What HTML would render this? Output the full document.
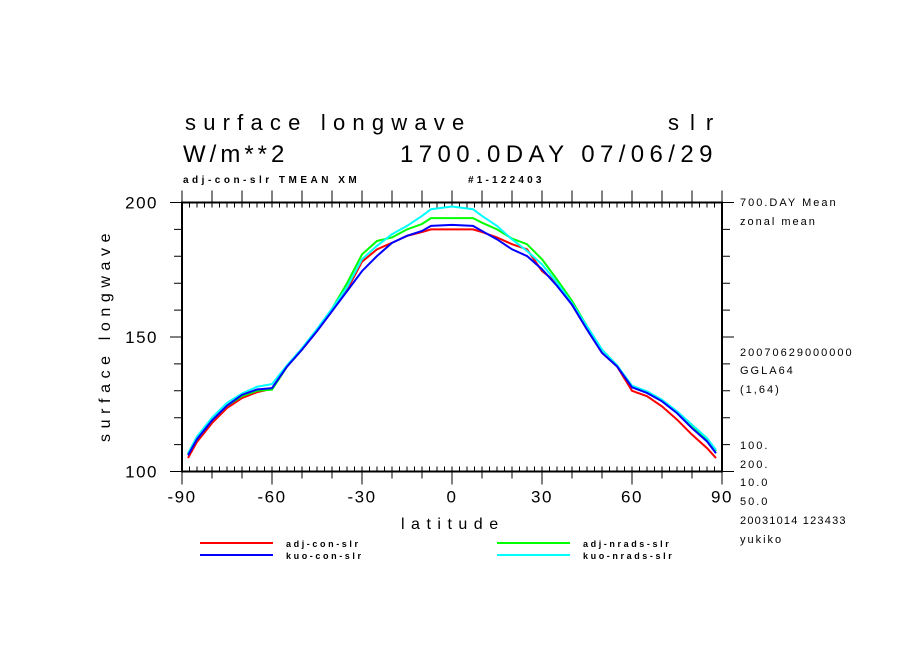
<!DOCTYPE html>
<html><head><meta charset="utf-8"><style>
body{margin:0;background:#fff;width:904px;height:654px;overflow:hidden}
svg{display:block}
text{font-family:"Liberation Sans",sans-serif;fill:#000}
</style></head><body>
<svg id="chart" width="904" height="654" viewBox="0 0 904 654">
<text x="185" y="130" font-size="22" letter-spacing="7.2">surface longwave</text>
<text x="668" y="130" font-size="22" letter-spacing="11">slr</text>
<text x="183" y="162" font-size="24" letter-spacing="4">W/m**2</text>
<text x="400" y="162" font-size="24" letter-spacing="5.4">1700.0DAY 07/06/29</text>
<text x="183" y="183" font-size="10" font-weight="bold" letter-spacing="3.5">adj-con-slr TMEAN XM</text>
<text x="468" y="183" font-size="10" font-weight="bold" letter-spacing="3.2">#1-122403</text>
<g id="axes"></g>
<g id="series"></g>
<text x="0" y="0" font-size="16" letter-spacing="5.6" transform="translate(110,442) rotate(-90)">surface longwave</text>
<text x="401" y="529" font-size="16" letter-spacing="6.5">latitude</text>
<g font-size="11" letter-spacing="2">
<text x="740" y="206">700.DAY Mean</text>
<text x="740" y="225">zonal mean</text>
<text x="740" y="356">20070629000000</text>
<text x="740" y="374">GGLA64</text>
<text x="740" y="393">(1,64)</text>
<text x="740" y="449">100.</text>
<text x="740" y="468">200.</text>
<text x="740" y="486">10.0</text>
<text x="740" y="505">50.0</text>
<text x="740" y="524" letter-spacing="1.2">20031014 123433</text>
<text x="740" y="543">yukiko</text>
</g>
<g id="legend"></g>
</svg>
<script>
const lats=[-88,-85,-80,-75,-70,-65,-60,-55,-50,-45,-40,-35,-30,-25,-20,-15,-10,-7,0,7,10,15,20,25,30,35,40,45,50,55,60,65,70,75,80,85,88];
const adjCon=[105,111,118,123.6,127.3,129.5,130.7,139,145.3,152.2,159.6,167.5,178,182.6,185,187.6,189,190,190,190,189,187,184.5,182.6,174.5,170.2,162,152.8,144.1,139.1,130,128,124.2,119.3,113.7,108.7,105];
const kuoCon=[106,112,119,124.5,128.5,130.5,131,139,145.3,152.2,159.6,167,174.5,180.1,185,187.6,189.4,191.3,191.7,191.3,189.4,186.3,182.6,180.1,175.2,169,162,152.8,144.1,139.1,131.3,129.2,126.1,121.7,116.1,111.2,106.8];
const adjNrads=[106.5,112,119,124.5,128,130,130.4,139,145.3,152.5,160.5,170,180.7,185.7,187,190,192,194.2,194.2,194.2,192.5,190,186.6,184.5,178.9,171.4,163.4,154,145.3,139.5,131.5,129.5,126.5,122,117,112,107.5];
const kuoNrads=[106.8,113,120,125.5,129,131.5,132.5,139.5,145.8,153,160.5,168.5,178.9,183.9,188.2,191.3,195,197.5,198.5,197.5,195,191.3,186.3,182,177,170.2,162.5,154,145.3,139.5,131.9,129.8,126.7,122.4,117.4,112.4,108];
const xTicks=[-90,-60,-30,0,30,60,90];
const yTicks=[100,150,200];
const names=["adj-con-slr","kuo-con-slr","adj-nrads-slr","kuo-nrads-slr"];
const NS="http://www.w3.org/2000/svg";
const X0=182,X1=722,Y0=471.5,Y1=202.5;
const xs=v=>X0+(v+90)/180*(X1-X0);
const ys=v=>Y0-(v-100)/100*(Y0-Y1);
function mk(tag,attrs,parent){const e=document.createElementNS(NS,tag);for(const k in attrs)e.setAttribute(k,attrs[k]);parent.appendChild(e);return e;}
const ax=document.getElementById('axes');
let d=`M${X0} ${Y1}H${X1}V${Y0}H${X0}Z`;
const frame=mk('path',{d:d,fill:'none',stroke:'#000','stroke-width':2},ax);


let t='';
for(let v=-90;v<=90;v+=10){const x=xs(v),big=v%30===0;
 t+=`M${x} ${Y1-12}V${Y1+(big?1:0)}M${x} ${Y0}V${Y0+(big?13:7)}`;}
for(let x=X0+7.5;x<X1;x+=7.5){t+=`M${x} ${Y1}V${Y1+5}M${x} ${Y0}V${Y0-5}`;}
for(let v=100;v<=200;v+=10){const y=ys(v),big=v%50===0;
 t+=`M${X0-(big?12:8)} ${y}H${X0}M${X1} ${y}H${X1+(big?12:8)}`;}
const ticks=mk('path',{d:t,fill:'none',stroke:'#000','stroke-width':1},ax);


xTicks.forEach(v=>{const e=mk('text',{x:xs(v),y:Y0+31,'font-size':17,'text-anchor':'middle','letter-spacing':1.5},ax);e.textContent=v;
 
 });
yTicks.forEach(v=>{const e=mk('text',{x:158,y:ys(v)+6,'font-size':17,'text-anchor':'end','letter-spacing':1.5},ax);e.textContent=v;
 
 });
const sg=document.getElementById('series');
const series=[adjCon,adjNrads,kuoNrads,kuoCon];
const cols=['#ff0000','#00ff00','#00ffff','#0000ff'];
const snames=['series-adj-con','series-adj-nrads','series-kuo-nrads','series-kuo-con'];
series.forEach((s,i)=>{const p=mk('polyline',{points:s.map((v,j)=>xs(lats[j])+','+ys(v)).join(' '),fill:'none',stroke:cols[i],'stroke-width':2},sg);
 
 });
const lg=document.getElementById('legend');
const lpos=[[200,543,'#ff0000'],[200,555,'#0000ff'],[497,543,'#00ff00'],[497,555,'#00ffff']];
[0,1,2,3].forEach(i=>{const [x,y,c]=lpos[i];
 const l=mk('line',{x1:x,y1:y,x2:x+73,y2:y,stroke:c,'stroke-width':2},lg);
 
 
 const tx=mk('text',{x:x+86,y:y+4,'font-size':9,'font-weight':'bold','letter-spacing':2.6},lg);tx.textContent=names[i];
 
 });
</script>
</body></html>
